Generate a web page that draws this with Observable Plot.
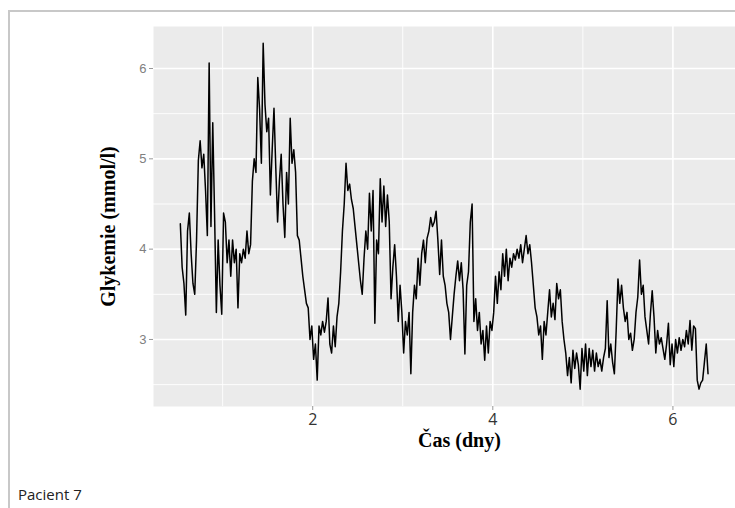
<!DOCTYPE html>
<html><head><meta charset="utf-8">
<script src="https://cdn.jsdelivr.net/npm/d3@7"></script>
<script src="https://cdn.jsdelivr.net/npm/@observablehq/plot@0.6"></script>
<style>
html,body{margin:0;padding:0;background:#fff;width:735px;height:508px;overflow:hidden;}
#wrap{position:relative;width:735px;height:508px;}
#frame{position:absolute;left:8px;top:10px;width:740px;height:510px;border-top:2px solid #c8c8c8;border-left:2px solid #c8c8c8;}
#chart{position:absolute;left:0;top:0;}
#caption{position:absolute;left:18px;top:484px;font-family:"Open Sans",sans-serif;font-size:15px;color:#222;}
</style></head><body>
<div id="wrap"><div id="frame"></div><div id="chart"></div><div id="caption"></div></div>
<script>
// CGM glucose readings (mmol/l), one every stepDays
const glucose = [
 4.28, 3.8, 3.62, 3.27, 4.2, 4.4, 3.95, 3.62, 3.5, 4.1,
 4.98, 5.2, 4.9, 5.05, 4.65, 4.15, 6.06, 4.25, 5.4, 4.4,
 3.3, 4.1, 3.6, 3.28, 4.4, 4.3, 3.85, 4.1, 3.7, 4.1,
 3.85, 4.0, 3.35, 3.95, 3.85, 4.0, 3.9, 4.2, 3.95, 4.05,
 4.75, 5.0, 4.85, 5.9, 5.55, 4.95, 6.28, 5.6, 5.3, 5.45,
 4.6, 5.1, 5.56, 4.9, 4.3, 4.75, 5.05, 4.5, 4.13, 4.85,
 4.5, 5.45, 4.95, 5.1, 4.85, 4.15, 4.1, 3.9, 3.7, 3.55,
 3.4, 3.35, 3.0, 3.15, 2.78, 2.95, 2.55, 3.15, 3.05, 3.2,
 3.08, 3.2, 3.46, 2.95, 2.85, 3.15, 2.92, 3.25, 3.4, 3.75,
 4.2, 4.5, 4.95, 4.65, 4.72, 4.55, 4.45, 4.25, 4.05, 3.85,
 3.65, 3.5, 3.9, 4.2, 4.0, 4.62, 4.2, 4.65, 3.18, 4.1,
 3.95, 4.78, 4.3, 4.7, 4.25, 4.6, 4.3, 3.45, 3.8, 4.05,
 3.7, 3.2, 3.6, 3.3, 2.85, 3.2, 3.05, 3.3, 2.62, 3.3,
 3.6, 3.45, 3.9, 3.6, 3.95, 4.1, 3.85, 4.12, 4.2, 4.35,
 4.25, 4.3, 4.42, 4.1, 3.72, 4.1, 3.7, 3.6, 3.4, 3.3,
 3.0, 3.25, 3.5, 3.7, 3.87, 3.65, 3.85, 3.55, 2.84, 3.6,
 3.75, 4.3, 4.5, 3.2, 3.45, 3.1, 3.3, 2.95, 3.1, 2.77,
 3.15, 2.85, 3.2, 3.1, 3.3, 3.7, 3.4, 3.75, 3.55, 3.95,
 3.7, 4.0, 3.65, 3.9, 3.8, 3.95, 3.88, 4.0, 3.9, 4.05,
 3.85, 4.0, 4.15, 3.95, 4.05, 3.85, 3.6, 3.35, 3.25, 3.05,
 3.15, 2.78, 3.2, 3.05, 3.3, 3.55, 3.25, 3.4, 3.22, 3.62,
 3.45, 3.55, 3.2, 3.0, 2.85, 2.6, 2.8, 2.52, 2.88, 2.68,
 2.85, 2.72, 2.45, 2.9, 2.65, 2.95, 2.6, 2.9, 2.7, 2.88,
 2.65, 2.85, 2.7, 2.78, 2.65, 2.8, 2.9, 3.43, 2.8, 2.95,
 2.75, 2.62, 3.1, 3.67, 3.4, 3.6, 3.35, 3.2, 3.3, 3.0,
 3.07, 2.88, 3.0, 3.3, 3.47, 3.88, 3.5, 3.6, 3.25, 3.1,
 2.95, 3.28, 3.54, 3.25, 2.85, 3.1, 2.95, 3.02, 2.9, 2.78,
 2.95, 3.18, 2.72, 2.95, 2.7, 3.0, 2.85, 3.02, 2.88, 3.0,
 2.92, 3.1, 2.95, 3.21, 2.88, 3.15, 3.12, 2.55, 2.45, 2.52,
 2.55, 2.75, 2.95, 2.62
];
const startDay = 0.53;
const stepDays = 0.02;
const xTicks = [2, 4, 6];
const xMinorGrid = [1, 3, 5];
const yTicks = [3, 4, 5, 6];
const yMinorGrid = [2.5, 3.5, 4.5, 5.5];
const xTitle = "Čas (dny)";
const yTitle = "Glykemie (mmol/l)";
const captionText = "Pacient 7";

const series = glucose.map((g, i) => ({day: startDay + i * stepDays, glucose: g}));

const chart = Plot.plot({
  width: 735, height: 460,
  marginLeft: 153, marginTop: 26, marginRight: 0, marginBottom: 54,
  style: {background: "transparent", overflow: "visible"},
  x: {domain: [0.232, 6.695]},
  y: {domain: [2.258, 6.465]},
  marks: [
    Plot.frame({fill: "#ebebeb", stroke: "none"}),
    Plot.gridX(xMinorGrid, {stroke: "#fff", strokeOpacity: 1, strokeWidth: 0.9}),
    Plot.gridY(yMinorGrid, {stroke: "#fff", strokeOpacity: 1, strokeWidth: 0.9}),
    Plot.gridX(xTicks, {stroke: "#fff", strokeOpacity: 1, strokeWidth: 1.6}),
    Plot.gridY(yTicks, {stroke: "#fff", strokeOpacity: 1, strokeWidth: 1.6}),
    Plot.line(series, {x: "day", y: "glucose", stroke: "#000", strokeWidth: 1.5, curve: "linear"}),
    Plot.axisX(xTicks, {tickSize: 4, tickPadding: 3, stroke: "#999", fill: "#333", fontSize: 16,
      tickFormat: d => String(d),
      fontFamily: "'Liberation Sans Narrow', 'Open Sans', sans-serif", label: null}),
    Plot.axisY(yTicks, {tickSize: 4, tickPadding: 3, stroke: "#999", fill: "#808080", fontSize: 13,
      tickFormat: d => String(d),
      fontFamily: "'Liberation Sans', Arial, sans-serif", label: null}),
    Plot.text([xTitle], {text: d => d, frameAnchor: "bottom", lineAnchor: "middle", textAnchor: "middle", dx: 15, dy: 34,
      fontFamily: "'Liberation Serif', 'Times New Roman', serif", fontWeight: "bold", fontSize: 20, fill: "#000"}),
    Plot.text([yTitle], {text: d => d, frameAnchor: "left", rotate: -90, textAnchor: "middle", lineAnchor: "middle", dx: -45, dy: 10,
      fontFamily: "'Liberation Serif', 'Times New Roman', serif", fontWeight: "bold", fontSize: 20, fill: "#000"})
  ]
});
document.getElementById("chart").appendChild(chart);
document.getElementById("caption").textContent = captionText;
</script>
</body></html>
